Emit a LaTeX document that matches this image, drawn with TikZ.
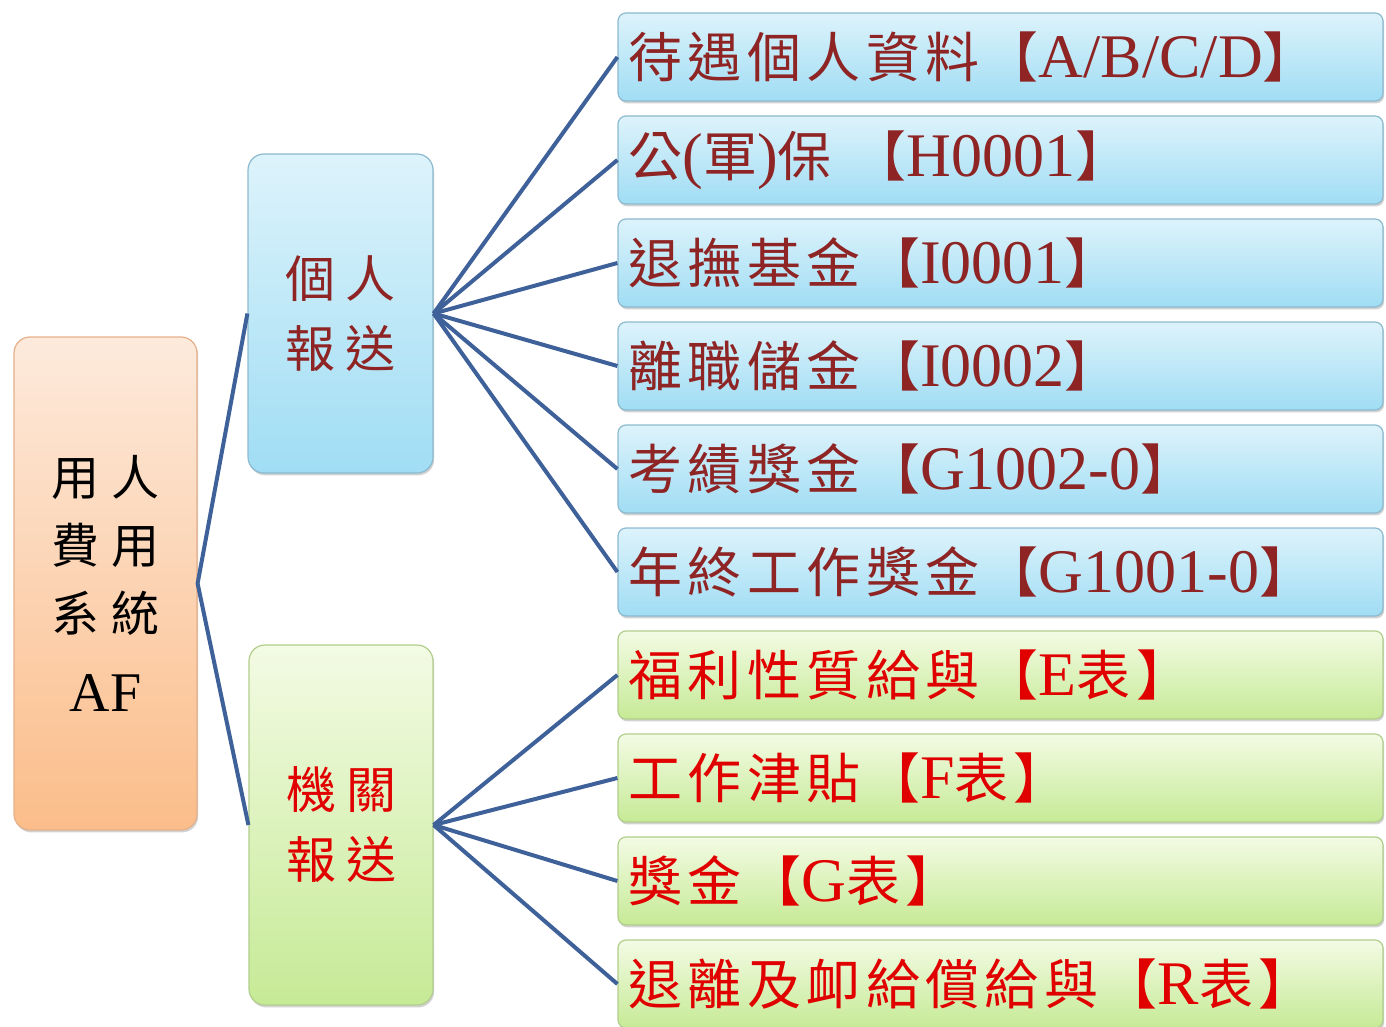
\documentclass[tikz,border=0pt]{standalone}
\usepackage{fontspec}
\setmainfont{Liberation Serif}
\newfontfamily\zh[LetterSpace=10]{Noto Sans CJK TC}
\usetikzlibrary{shadows}
\definecolor{linkblue}{HTML}{3F6199}
\definecolor{orangetop}{HTML}{FDEADC}
\definecolor{orangebot}{HTML}{FBBD8A}
\definecolor{orangeline}{HTML}{E5B08A}
\definecolor{bluetop}{HTML}{DDF3FB}
\definecolor{bluebot}{HTML}{A0DDF4}
\definecolor{blueline}{HTML}{8CBACF}
\definecolor{greentop}{HTML}{F3FBE4}
\definecolor{greenbot}{HTML}{C6EA96}
\definecolor{greenline}{HTML}{B2CE8C}
\definecolor{maroon}{HTML}{8E2424}
\definecolor{brightred}{HTML}{E00000}
\newcommand{\zhtext}[1]{{\zh\fontsize{27}{32}\selectfont #1}}

\begin{document}
\begin{tikzpicture}[x=0.5pt, y=-0.5pt,
	box/.style={draw, line width=0.6pt, drop shadow={shadow xshift=0.6pt, shadow yshift=-1.2pt, opacity=.35}},
	rootbox/.style={box, rounded corners=8pt, draw=orangeline, top color=orangetop, bottom color=orangebot, minimum width=91.5pt, minimum height=246.5pt, align=center, font={\zh\fontsize{24}{34}\selectfont}},
	midbox/.style={box, rounded corners=8pt, align=center, font={\zh\fontsize{25}{35}\selectfont}},
	bluemid/.style={midbox, draw=blueline, top color=bluetop, bottom color=bluebot, minimum width=92.5pt, minimum height=159.5pt, text=maroon},
	greenmid/.style={midbox, draw=greenline, top color=greentop, bottom color=greenbot, minimum width=92pt, minimum height=180pt, text=brightred},
	leaf/.style={box, rounded corners=4pt, minimum width=382.5pt, minimum height=44pt, text width=372pt, inner xsep=5pt, align=left, font={\fontsize{31}{34}\selectfont}},
	blueleaf/.style={leaf, draw=blueline, top color=bluetop, bottom color=bluebot, text=maroon},
	greenleaf/.style={leaf, draw=greenline, top color=greentop, bottom color=greenbot, text=brightred},
	link/.style={draw=linkblue, line width=2pt}]
	\clip (0,0) rectangle (1386,1027);
	\fill[white] (0,0) rectangle (1386,1027);

	\node[rootbox] (root) at (105.5,583.5) {用\hspace{6pt}人\\費\hspace{6pt}用\\系\hspace{6pt}統\\[6pt]\rmfamily\fontsize{28}{30}\selectfont AF};
	\node[bluemid] (person) at (340.5,313.5) {個\hspace{5pt}人\\報\hspace{5pt}送};
	\node[greenmid] (agency) at (341,825) {機\hspace{5pt}關\\報\hspace{5pt}送};

	\node[blueleaf] (pay) at (1000.5,57) {\zhtext{待遇個人資料【}A/B/C/D\zhtext{】}};
	\node[blueleaf] (ins) at (1000.5,160) {\zhtext{公}(\zhtext{軍})\zhtext{保 【}H0001\zhtext{】}};
	\node[blueleaf] (pension) at (1000.5,263) {\zhtext{退撫基金【}I0001\zhtext{】}};
	\node[blueleaf] (saving) at (1000.5,366) {\zhtext{離職儲金【}I0002\zhtext{】}};
	\node[blueleaf] (merit) at (1000.5,469) {\zhtext{考績獎金【}G1002-0\zhtext{】}};
	\node[blueleaf] (yearend) at (1000.5,572) {\zhtext{年終工作獎金【}G1001-0\zhtext{】}};
	\node[greenleaf] (welfare) at (1000.5,675) {\zhtext{福利性質給與【}E\zhtext{表】}};
	\node[greenleaf] (allow) at (1000.5,778) {\zhtext{工作津貼【}F\zhtext{表】}};
	\node[greenleaf] (bonus) at (1000.5,881) {\zhtext{獎金【}G\zhtext{表】}};
	\node[greenleaf] (retire) at (1000.5,984) {\zhtext{退離及卹給償給與【}R\zhtext{表】}};

	\draw[link] (person.west) -- (root.east) -- (agency.west);
	\draw[link] (person.east) -- (pay.west);
	\draw[link] (person.east) -- (ins.west);
	\draw[link] (person.east) -- (pension.west);
	\draw[link] (person.east) -- (saving.west);
	\draw[link] (person.east) -- (merit.west);
	\draw[link] (person.east) -- (yearend.west);
	\draw[link] (agency.east) -- (welfare.west);
	\draw[link] (agency.east) -- (allow.west);
	\draw[link] (agency.east) -- (bonus.west);
	\draw[link] (agency.east) -- (retire.west);
\end{tikzpicture}
\end{document}
